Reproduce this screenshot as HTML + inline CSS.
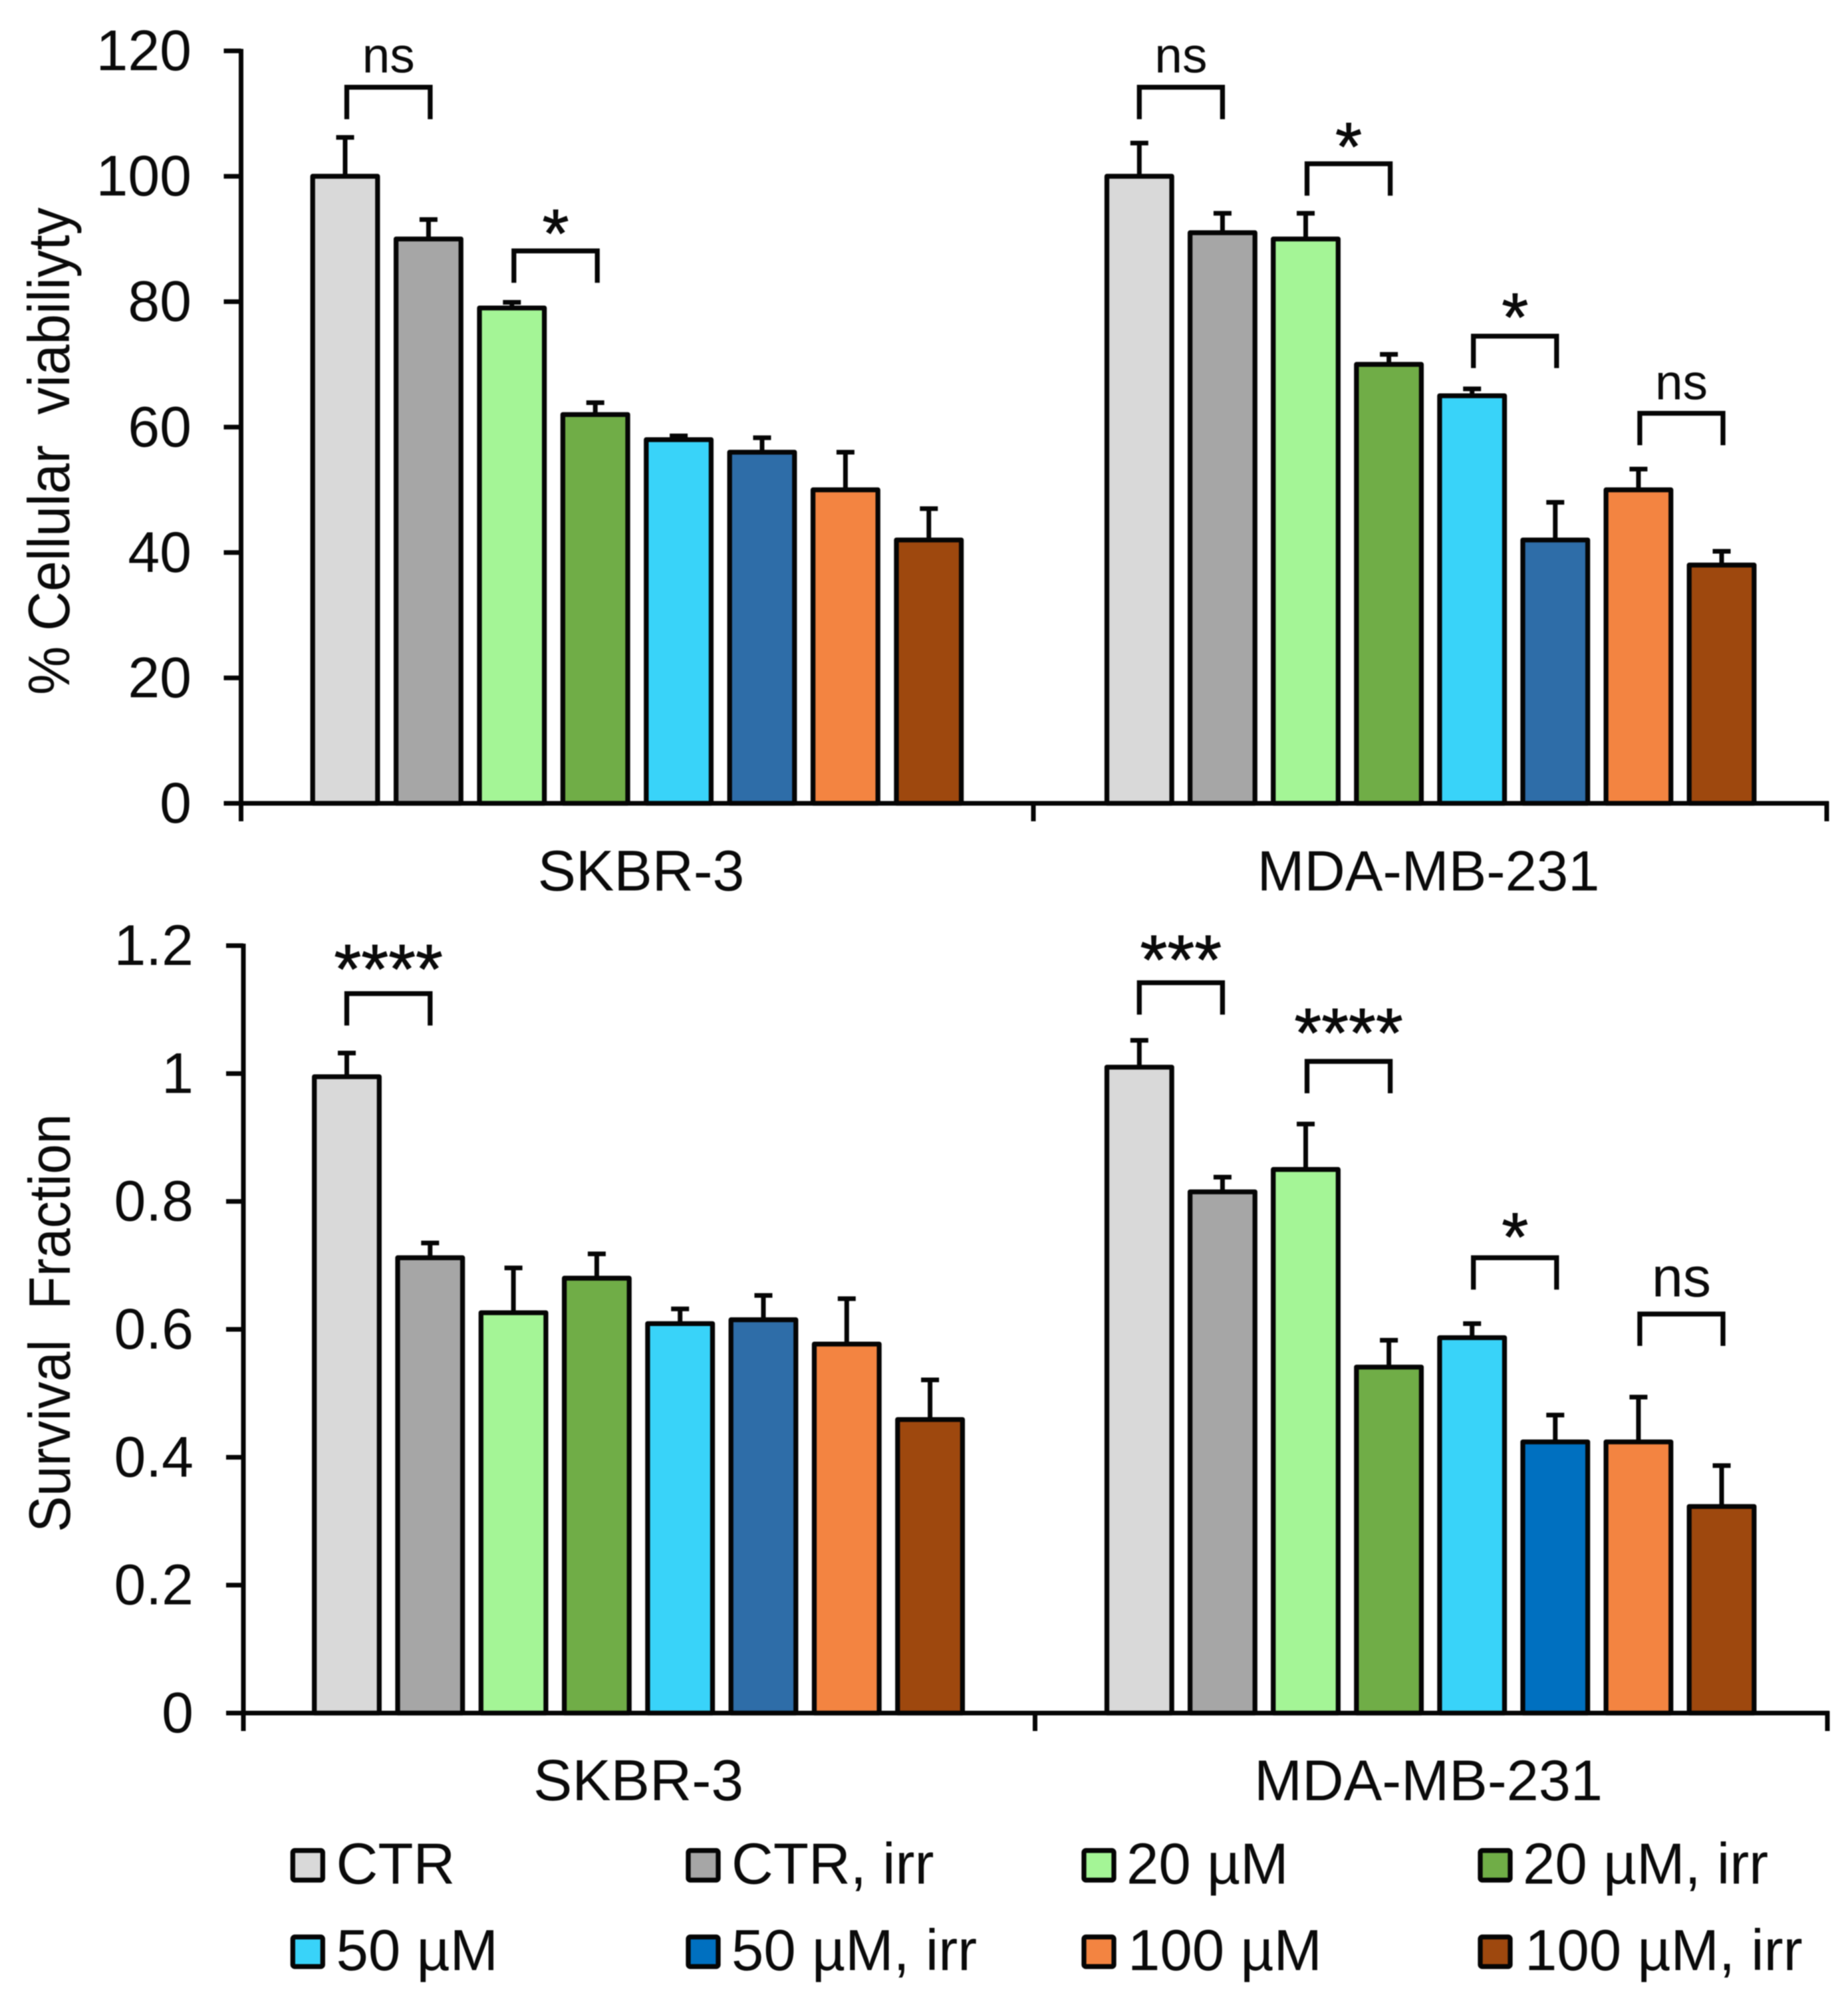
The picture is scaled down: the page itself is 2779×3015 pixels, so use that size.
<!DOCTYPE html>
<html lang="en">
<head>
<meta charset="utf-8">
<title>Cellular viability and survival fraction</title>
<style>
html,body{margin:0;padding:0;background:#fff;width:2779px;height:3015px;overflow:hidden}
svg{display:block;filter:blur(0.8px)}
text{font-family:"Liberation Sans",Arial,sans-serif;fill:#0a0a0a}
</style>
</head>
<body>
<svg id="figure" xmlns="http://www.w3.org/2000/svg" width="2779" height="3015" viewBox="0 0 2779 3015"></svg>
<script>
// ---------- data ----------
const seriesNames = ['CTR', 'CTR, irr', '20 µM', '20 µM, irr', '50 µM', '50 µM, irr', '100 µM', '100 µM, irr'];
const seriesColors = ['#d9d9d9', '#a6a6a6', '#a4f596', '#70ad47', '#39d3f9', '#2e6da8', '#f38441', '#9e480e'];
const legendColors = ['#d9d9d9', '#a6a6a6', '#a4f596', '#70ad47', '#39d3f9', '#0070c0', '#f38441', '#9e480e'];

const cellLines = ['SKBR-3', 'MDA-MB-231'];

const viabilityTicks = [0, 20, 40, 60, 80, 100, 120];
const viabilitySkbr = [100, 90, 79, 62, 58, 56, 50, 42];
const viabilitySkbrErr = [6.2, 3.1, 0.9, 1.9, 0.6, 2.3, 6, 5];
const viabilityMda = [100, 91, 90, 70, 65, 42, 50, 38];
const viabilityMdaErr = [5.3, 3.1, 4.1, 1.6, 1.1, 6, 3.3, 2.2];

const survivalTicks = [0, 0.2, 0.4, 0.6, 0.8, 1, 1.2];
const survivalSkbr = [0.995, 0.712, 0.626, 0.68, 0.609, 0.615, 0.577, 0.459];
const survivalSkbrErr = [0.037, 0.023, 0.07, 0.038, 0.023, 0.038, 0.071, 0.062];
const survivalMda = [1.01, 0.815, 0.85, 0.541, 0.587, 0.424, 0.424, 0.323];
const survivalMdaErr = [0.042, 0.023, 0.071, 0.042, 0.022, 0.042, 0.07, 0.064];

// ---------- helpers ----------
const svg = document.getElementById('figure');
const NS = 'http://www.w3.org/2000/svg';
function make(tag, attrs, parent) {
  const el = document.createElementNS(NS, tag);
  for (const k in attrs) el.setAttribute(k, attrs[k]);
  (parent || svg).appendChild(el);
  return el;
}
function group(name, parent) {
  const g = make('g', {}, parent);
  
  
  return g;
}
function slug(s) {
  return s.toLowerCase().replace(/µ/g, 'u').replace(/[^a-z0-9]+/g, '-');
}

function buildPanel(cfg) {
  const root = group(cfg.name);
  const yScale = v => cfg.zeroY - (v / cfg.maxV) * (cfg.zeroY - cfg.topY);
  const barX = (g, i) => cfg.groupStart[g] + i * cfg.groupStep[g];

  // bars + error bars
  cfg.values.forEach((vals, g) => {
    const gEl = group(slug(cellLines[g]) + '-bars', root);
    vals.forEach((v, i) => {
      const cx = barX(g, i);
      const top = yScale(v + cfg.errors[g][i]);
      const err = make('path', {
        d: 'M' + cx + ' ' + yScale(v) + 'V' + top + 'M' + (cx - 13.5) + ' ' + top + 'H' + (cx + 13.5),
        fill: 'none', stroke: '#050505', 'stroke-width': 7
      }, gEl);
      
      
      const fill = (cfg.colorOverride && cfg.colorOverride[g + ':' + i]) || seriesColors[i];
      const r = make('rect', {
        x: cx - 48.8, y: yScale(v), width: 97.6, height: cfg.zeroY - yScale(v),
        fill: fill, stroke: '#050505', 'stroke-width': 7.3, 'stroke-linejoin': 'round'
      }, gEl);
      
      
    });
  });

  // axes
  const axes = group('axes', root);
  const yAxis = make('path', {
    d: 'M' + cfg.axisX + ' ' + (cfg.topY - 3) + 'V' + (cfg.zeroY + 27),
    fill: 'none', stroke: '#050505', 'stroke-width': 7
  }, axes);
  
  
  const xAxis = make('path', {
    d: 'M' + cfg.axisX + ' ' + cfg.zeroY + 'H' + (cfg.axisEnd + 3) +
       'M' + cfg.axisMid + ' ' + cfg.zeroY + 'v27' +
       'M' + cfg.axisEnd + ' ' + (cfg.zeroY - 3) + 'v30',
    fill: 'none', stroke: '#050505', 'stroke-width': 7
  }, axes);
  
  

  cfg.ticks.forEach(t => {
    const y = yScale(t);
    const tick = make('path', {
      d: 'M' + (cfg.axisX - 26) + ' ' + y + 'H' + cfg.axisX,
      fill: 'none', stroke: '#050505', 'stroke-width': 7
    }, axes);
    
    
    const lab = make('text', { x: cfg.tickLabelX, y: y + 29, 'text-anchor': 'end', 'font-size': 86 }, axes);
    lab.textContent = String(t);
    
    
  });

  // y title
  const title = make('text', {
    transform: 'translate(' + cfg.titleX + ' ' + cfg.titleY + ') rotate(-90)',
    'font-size': 88, textLength: cfg.titleLen, lengthAdjust: 'spacingAndGlyphs'
  }, root);
  title.textContent = cfg.title;
  
  

  // category labels
  cellLines.forEach((c, g) => {
    const lab = make('text', {
      x: cfg.catX[g], y: cfg.catY, 'text-anchor': 'middle', 'font-size': cfg.catSize[g]
    }, root);
    lab.textContent = c;
    
    
  });

  // significance brackets: [group, first bar, level, label, font size, baseline offset, bracket x offset]
  cfg.brackets.forEach(b => {
    const bg = group('significance-bracket', root);
    const x1 = barX(b[0], b[1]) + b[6];
    const x2 = barX(b[0], b[1] + 1) + b[6];
    const y = yScale(b[2]);
    make('path', {
      d: 'M' + x1 + ' ' + (y + 48) + 'V' + y + 'H' + x2 + 'V' + (y + 48),
      fill: 'none', stroke: '#050505', 'stroke-width': 7.3
    }, bg);
    const t = make('text', {
      x: (x1 + x2) / 2 + (b[3] === 'ns' ? 0 : 0), y: y + b[5], 'text-anchor': 'middle', 'font-size': b[4]
    }, bg);
    if (b[3] !== 'ns') {
      t.setAttribute('stroke', '#0a0a0a');
      t.setAttribute('stroke-width', '1');
    }
    t.textContent = b[3];
    
    
  });
}

// ---------- panels ----------
buildPanel({
  name: 'viability-chart',
  zeroY: 1208, topY: 76.5, maxV: 120,
  axisX: 362.5, axisMid: 1554, axisEnd: 2747, tickLabelX: 288,
  groupStart: [519, 1713.3], groupStep: [125.4, 125.1],
  values: [viabilitySkbr, viabilityMda], errors: [viabilitySkbrErr, viabilityMdaErr],
  ticks: viabilityTicks,
  title: '% Cellular\u00A0 viabiliyty', titleX: 104, titleY: 1045, titleLen: 733,
  catX: [964, 2148], catY: 1339, catSize: [86, 85],
  brackets: [
    [0, 0, 114.2, 'ns', 75, -22, 2.5],
    [0, 2, 88.1, '*', 103, 9, 3],
    [1, 0, 114.2, 'ns', 75, -22, 0],
    [1, 2, 102, '*', 103, 10, 2],
    [1, 4, 74.5, '*', 103, 7, 2],
    [1, 6, 62.2, 'ns', 75, -21, 2]
  ]
});

buildPanel({
  name: 'survival-chart',
  zeroY: 2576, topY: 1422, maxV: 1.2,
  axisX: 366, axisMid: 1556.5, axisEnd: 2748, tickLabelX: 291,
  groupStart: [521.5, 1713.3], groupStep: [125.3, 125.1],
  values: [survivalSkbr, survivalMda], errors: [survivalSkbrErr, survivalMdaErr],
  ticks: survivalTicks,
  colorOverride: { '1:5': '#0070c0' },
  title: 'Survival\u00A0 Fraction', titleX: 105, titleY: 2304, titleLen: 629,
  catX: [960, 2148], catY: 2707, catSize: [87.5, 86.5],
  brackets: [
    [0, 0, 1.125, '****', 105, -1, 0],
    [1, 0, 1.142, '***', 105, 1, 0],
    [1, 2, 1.019, '****', 105, -7, 2],
    [1, 4, 0.712, '*', 103, 4, 2],
    [1, 6, 0.624, 'ns', 84.5, -26.5, 2]
  ]
});

// ---------- legend ----------
const legendRoot = group('legend');
const legendSwatchX = [440.3, 1035, 1630, 2226];
const legendTextX = [505.5, 1100, 1694, 2290, 505.5, 1100, 1696, 2293];
const legendRows = [2782.7, 2912.7];
const legendBaselines = [2832.7, 2962.3];
seriesNames.forEach((name, i) => {
  const col = i % 4;
  const row = Math.floor(i / 4);
  const entry = group('legend-entry-' + slug(name), legendRoot);
  
  const sw = make('rect', {
    x: legendSwatchX[col], y: legendRows[row], width: 45, height: 44.5,
    rx: 3, fill: legendColors[i], stroke: '#050505', 'stroke-width': 7.3
  }, entry);
  
  
  const t = make('text', {
    x: legendTextX[i], y: legendBaselines[row], 'font-size': 87
  }, entry);
  t.textContent = name;
  
  
});
</script>
</body>
</html>
